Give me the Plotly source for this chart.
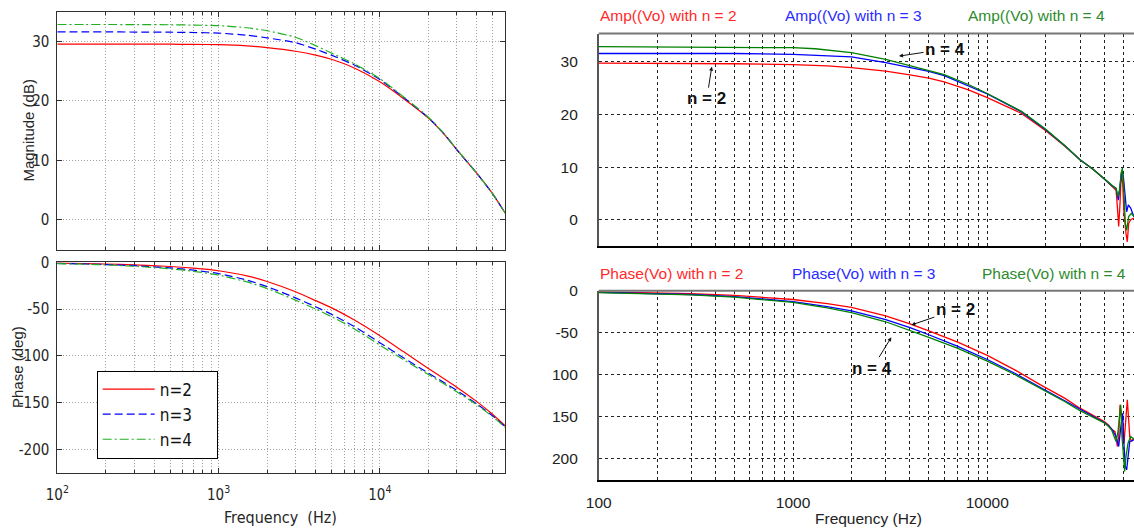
import math
import plotly.graph_objects as go

# ---------------- Left: MATLAB Bode plot (n = 2, 3, 4) ----------------
freq_bode = [100, 150, 200, 300, 500, 700, 1000, 1500, 2000, 3000, 4000, 5000,
             7000, 10000, 14000, 20000, 25000, 30000, 40000, 50000, 60000]
mag_n2 = [29.55, 29.55, 29.55, 29.55, 29.53, 29.5, 29.45, 29.25, 28.95, 28.35, 27.7, 27.0,
          25.5, 23.2, 20.4, 17.1, 14.4, 11.8, 7.8, 4.4, 1.1]
mag_n3 = [31.6, 31.6, 31.6, 31.58, 31.55, 31.5, 31.4, 31.05, 30.6, 29.8, 28.7, 27.7,
          26.0, 23.6, 20.6, 17.2, 14.5, 11.8, 7.8, 4.4, 1.1]
mag_n4 = [32.85, 32.85, 32.85, 32.83, 32.8, 32.75, 32.65, 32.3, 31.8, 30.7, 29.3, 28.05,
          26.2, 23.75, 20.7, 17.25, 14.5, 11.85, 7.8, 4.4, 1.1]
ph_n2 = [-0.9, -1.4, -1.8, -2.7, -4.5, -6.2, -9.0, -14.5, -20.5, -31.5, -41.0, -48.5,
         -62.0, -78.5, -95.5, -113.5, -124.5, -133.5, -149.0, -162.5, -175.0]
ph_n3 = [-1.2, -1.8, -2.4, -3.6, -6.0, -8.4, -12.0, -19.0, -26.0, -38.0, -47.5, -55.5,
         -69.0, -86.0, -102.0, -118.5, -128.5, -137.0, -151.5, -164.0, -176.0]
ph_n4 = [-1.4, -2.1, -2.8, -4.2, -6.9, -9.6, -13.7, -21.0, -28.0, -40.5, -50.0, -58.0,
         -71.5, -88.5, -104.0, -120.0, -130.0, -138.5, -152.5, -165.0, -176.5]

# ---------------- Right: PSIM AC sweep (n = 2, 3, 4) ----------------
amp_f_n2 = [100, 300, 500, 1000, 1500, 2000, 3000, 4000, 5000, 6000, 8000, 10000, 15000,
            20000, 25000, 30000, 35000, 40000, 42000, 44000, 45400, 46000, 46700, 47450,
            48200, 48960, 49740, 50530, 51740, 52560, 53400, 54700, 56900]
amp_n2 = [29.75, 29.75, 29.65, 29.5, 29.25, 28.9, 28.25, 27.55, 26.9, 26.2, 24.7, 23.2, 20.2,
          16.9, 14.0, 11.4, 9.6, 7.8, 7.0, 6.3, 5.8, 5.6, 2.5, -1.3,
          3.1, 9.1, 6.9, 1.2, -2.6, -4.2, -0.7, 0.0, 0.3]
amp_f_n3 = [100, 500, 1000, 1500, 2000, 3000, 4000, 5000, 6000, 8000, 10000, 15000,
            20000, 25000, 30000, 35000, 40000, 42000, 44000, 46000, 47260, 48190, 49350,
            50140, 51330, 52150, 53190, 54700, 56900]
amp_n3 = [31.6, 31.6, 31.45, 31.2, 30.95, 29.85, 29.0, 28.2, 27.4, 25.5, 23.9, 20.5,
          17.1, 14.1, 11.4, 9.6, 7.8, 7.0, 6.4, 6.0, 3.7, 6.3, 9.4,
          8.2, 3.7, 1.5, 2.8, 2.2, 0.5]
amp_f_n4 = [100, 500, 1000, 1300, 2000, 3000, 4000, 5000, 6000, 8000, 10000, 15000,
            20000, 25000, 30000, 35000, 40000, 42000, 44000, 46000, 47070, 47830, 48770,
            49550, 50330, 51330, 52150, 53400, 55100, 56900]
amp_n4 = [32.9, 32.85, 32.7, 32.5, 31.75, 30.5, 29.35, 28.4, 27.6, 25.7, 24.0, 20.6,
          17.2, 14.1, 11.4, 9.6, 7.8, 7.0, 6.5, 5.9, 4.4, 5.5, 8.5,
          9.8, 6.3, -0.7, -2.0, 0.6, 1.2, 0.6]

phase_f_n2 = [100, 200, 300, 500, 700, 1000, 1500, 2000, 3000, 4000, 5000, 7000, 10000,
              14000, 18700, 25000, 30000, 35000, 40000, 42000, 43700, 45400, 46700, 47450,
              48200, 48960, 49740, 50530, 51330, 52560, 53400, 54100, 55200, 56900]
phase_n2 = [-1.5, -2.5, -3.5, -5.5, -7.5, -10.5, -15.5, -20.0, -30.0, -39.5, -48.0, -61.0,
            -77.0, -95.0, -112.0, -128.0, -140.0, -148.0, -155.9, -160.0, -165.0, -168.0,
            -185.7, -173.8, -136.1, -146.0, -175.8, -181.7, -157.9, -130.1, -153.9,
            -173.8, -179.7, -175.8]
phase_f_n3 = [100, 200, 300, 500, 700, 1000, 1500, 2000, 3000, 4000, 5000, 7000, 10000,
              14000, 18700, 25000, 30000, 35000, 40000, 42000, 44000, 46000, 47450, 48600,
              49740, 50530, 51330, 52150, 53000, 54100, 56900]
phase_n3 = [-2.0, -3.3, -4.5, -7.0, -9.5, -13.0, -19.0, -24.0, -34.5, -44.0, -52.5, -66.0,
            -82.0, -99.0, -115.0, -131.0, -142.0, -150.0, -157.0, -161.0, -166.0, -173.8,
            -185.7, -163.8, -146.0, -183.7, -209.5, -213.5, -197.5, -179.7, -177.7]
phase_f_n4 = [100, 200, 300, 500, 700, 1000, 1500, 2000, 3000, 4000, 5000, 7000, 10000,
              14000, 18700, 25000, 30000, 35000, 40000, 42000, 43700, 44500, 46000, 47070,
              47830, 48600, 49350, 50140, 50920, 51740, 53000, 54700, 56900]
phase_n4 = [-2.2, -3.6, -5.0, -7.6, -10.3, -14.0, -20.5, -26.0, -37.0, -47.0, -55.5, -68.5,
            -84.0, -100.5, -116.0, -132.0, -143.0, -151.0, -157.5, -161.5, -166.0, -171.0,
            -179.7, -167.8, -150.0, -136.1, -173.8, -201.5, -215.4, -197.5, -181.7,
            -173.8, -176.9]

series_names = ["n=2", "n=3", "n=4"]
amp_titles = ["Amp((Vo) with n = 2", "Amp((Vo) with n = 3", "Amp((Vo) with n = 4"]
phase_titles = ["Phase(Vo) with n = 2", "Phase(Vo) with n = 3", "Phase(Vo) with n = 4"]

decade_ticks = [100, 1000, 10000]
ml_decade_text = ["10<sup>2</sup>", "10<sup>3</sup>", "10<sup>4</sup>"]
ps_decade_text = ["100", "1000", "10000"]
mag_ticks = [0, 10, 20, 30]
mag_text = ["0", "10", "20", "30"]
phase_ticks = [-200, -150, -100, -50, 0]
ml_phase_text = ["-200", "-150", "-100", "-50", "0"]
ps_phase_text = ["200", "150", "100", "-50", "0"]

# ---------------- styling ----------------
W, H = 1134, 528
NARROW = "Liberation Sans Narrow, Arial Narrow, DejaVu Sans Condensed, sans-serif"
SANS = "Liberation Sans, Arial, sans-serif"
ML_COLORS = ["#ff0000", "#0000ff", "#22b022"]
ML_DASH = ["solid", "8px,4px", "9px,3px,2px,3px"]
PS_COLORS = ["#ff0000", "#0000ff", "#008000"]
PS_TITLE_COLORS = ["#ff2a2a", "#2a2aff", "#2e8b2e"]
LEGEND_PAD = "\u00a0" * 4  # keeps the legend box as wide as the MATLAB one


def fx(px):
    return px / W


def fy(py):
    return 1 - py / H


fig = go.Figure()

# MATLAB magnitude / phase
for name, mag, ph, col, dash in zip(series_names, [mag_n2, mag_n3, mag_n4],
                                    [ph_n2, ph_n3, ph_n4], ML_COLORS, ML_DASH):
    fig.add_trace(go.Scatter(x=freq_bode, y=mag, xaxis="x", yaxis="y", mode="lines",
                             line=dict(color=col, width=1.2, dash=dash, shape="spline",
                                       smoothing=0.5),
                             showlegend=False, legendgroup=name))
    fig.add_trace(go.Scatter(x=freq_bode, y=ph, xaxis="x2", yaxis="y2", mode="lines",
                             name=name + LEGEND_PAD, legendgroup=name,
                             line=dict(color=col, width=1.2, dash=dash, shape="spline",
                                       smoothing=0.5)))

# PSIM amplitude / phase
for af, av, pf, pv, col in zip([amp_f_n2, amp_f_n3, amp_f_n4], [amp_n2, amp_n3, amp_n4],
                               [phase_f_n2, phase_f_n3, phase_f_n4],
                               [phase_n2, phase_n3, phase_n4], PS_COLORS):
    fig.add_trace(go.Scatter(x=af, y=av, xaxis="x3", yaxis="y3", mode="lines",
                             line=dict(color=col, width=1.3), showlegend=False))
    fig.add_trace(go.Scatter(x=pf, y=pv, xaxis="x4", yaxis="y4", mode="lines",
                             line=dict(color=col, width=1.3), showlegend=False))

ML_AX = "#303030"
ML_GRID = dict(showgrid=True, gridcolor="#a0a0a0", griddash="1px,2px", gridwidth=1)
PS_GRID = dict(showgrid=True, gridcolor="#222", griddash="3px,3px", gridwidth=1)

ml_x_common = dict(type="log", range=[2, math.log10(60000)], tickvals=decade_ticks,
                   ticktext=ml_decade_text, ticks="inside", ticklen=5, tickcolor=ML_AX,
                   showline=True, linecolor=ML_AX, linewidth=1, mirror="ticks",
                   zeroline=False, automargin=False, domain=[fx(57.3), fx(505.3)],
                   minor=dict(dtick="D1", ticks="inside", ticklen=3, tickcolor=ML_AX,
                              **ML_GRID),
                   tickfont=dict(family=NARROW, size=15, color="#262626"), **ML_GRID)
ml_y_common = dict(ticks="inside", ticklen=5, tickcolor=ML_AX, showline=True,
                   linecolor=ML_AX, linewidth=1, mirror="ticks", zeroline=False,
                   automargin=False, ticklabelstandoff=4,
                   tickfont=dict(family=NARROW, size=15, color="#262626"), **ML_GRID)

ps_x_common = dict(type="log", range=[2, 2 + (1134 - 598.7) / 194.3], tickvals=decade_ticks,
                   ticktext=ps_decade_text, ticks="", showline=True, linecolor="#000",
                   linewidth=2, zeroline=False, automargin=False, domain=[fx(598.7), 1.0],
                   minor=dict(dtick="D1", ticks="", **PS_GRID),
                   tickfont=dict(family=SANS, size=15.5, color="#222"), **PS_GRID)
ps_y_common = dict(ticks="", showline=True, linecolor="#555", linewidth=1.5,
                   zeroline=False, automargin=False, ticklabelstandoff=16,
                   tickfont=dict(family=SANS, size=15.5, color="#222"), **PS_GRID)

fig.update_layout(
    width=W, height=H, margin=dict(l=0, r=0, t=0, b=0, pad=0),
    paper_bgcolor="white", plot_bgcolor="white",
    xaxis=dict(ml_x_common, anchor="y", showticklabels=False),
    yaxis=dict(ml_y_common, anchor="x", range=[-5, 35], tickvals=mag_ticks,
               ticktext=mag_text, domain=[fy(249.5), fy(11.7)]),
    xaxis2=dict(ml_x_common, anchor="y2", ticklabelstandoff=8),
    yaxis2=dict(ml_y_common, anchor="x2", range=[-225, 0], tickvals=phase_ticks,
                ticktext=ml_phase_text, domain=[fy(472.7), fy(262.3)]),
    xaxis3=dict(ps_x_common, anchor="y3", showticklabels=False),
    yaxis3=dict(ps_y_common, anchor="x3", range=[-5, 35.4], tickvals=mag_ticks,
                ticktext=mag_text, domain=[fy(246), fy(33.5)]),
    xaxis4=dict(ps_x_common, anchor="y4", ticklabelstandoff=8),
    yaxis4=dict(ps_y_common, anchor="x4", range=[-225, 0], tickvals=phase_ticks,
                ticktext=ps_phase_text, domain=[fy(479.5), fy(290.7)]),
    legend=dict(x=fx(96.7), y=fy(370.5), xanchor="left", yanchor="top",
                bgcolor="white", bordercolor="#000", borderwidth=1,
                font=dict(family=NARROW, size=17, color="#111"),
                itemwidth=52, tracegroupgap=0),
    showlegend=True,
)

# gray top frame line of the PSIM panels
for xr, yr in (("x3 domain", "y3 domain"), ("x4 domain", "y4 domain")):
    fig.add_shape(type="line", xref=xr, yref=yr, x0=0, x1=1, y0=1, y1=1,
                  line=dict(color="#777", width=2))

ann = []
# axis titles
ann.append(dict(text="Magnitude (dB)", x=fx(29), y=fy(130.6), textangle=-90,
                font=dict(family=SANS, size=15, color="#262626")))
ann.append(dict(text="Phase (deg)", x=fx(17), y=fy(367), textangle=-90,
                font=dict(family=SANS, size=15, color="#262626")))
ann.append(dict(text="Frequency  (Hz)", x=fx(280), y=fy(517),
                font=dict(family=NARROW, size=16, color="#262626")))
ann.append(dict(text="Frequency (Hz)", x=fx(868), y=fy(518),
                font=dict(family=SANS, size=15.5, color="#222")))
for a in ann:
    a.update(xref="paper", yref="paper", showarrow=False, xanchor="center", yanchor="middle")

# PSIM series titles
for txt, col, x0 in zip(amp_titles, PS_TITLE_COLORS, [598.4, 783.0, 966.0]):
    ann.append(dict(text=txt, x=fx(x0), y=fy(15.5), xref="paper", yref="paper",
                    showarrow=False, xanchor="left", yanchor="middle",
                    font=dict(family=SANS, size=15.5, color=col)))
for txt, col, x0 in zip(phase_titles, PS_TITLE_COLORS, [598.4, 789.9, 980.0]):
    ann.append(dict(text=txt, x=fx(x0), y=fy(273), xref="paper", yref="paper",
                    showarrow=False, xanchor="left", yanchor="middle",
                    font=dict(family=SANS, size=15.5, color=col)))

# callouts on the PSIM curves
callouts = [
    ("x3", "y3", "n = 4", 3512, 31.1, 46, -7),
    ("x3", "y3", "n = 2", 382, 29.1, -5, 32),
    ("x4", "y4", "n = 2", 4068, -40.8, 44, -15),
    ("x4", "y4", "n = 4", 3206, -55.5, -19, 31),
]
for xr, yr, txt, f, v, ax, ay in callouts:
    ann.append(dict(text=txt, x=math.log10(f), y=v, xref=xr, yref=yr, ax=ax, ay=ay,
                    showarrow=True, arrowhead=2, arrowsize=0.8, arrowwidth=1,
                    arrowcolor="#111", standoff=0,
                    font=dict(family=SANS, size=17, color="#111", weight="bold")))

fig.update_layout(annotations=ann)

fig.write_html("out.html")
